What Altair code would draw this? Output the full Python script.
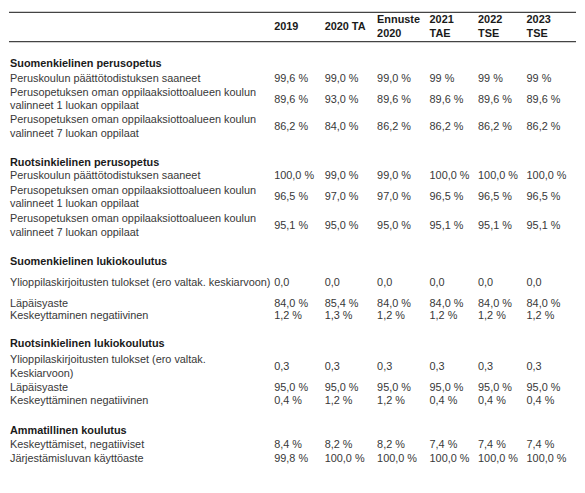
import altair as alt
import pandas as pd

# ---------------- data ----------------
headers = [["2019"], ["2020 TA"], ["Ennuste", "2020"], ["2021", "TAE"], ["2022", "TSE"], ["2023", "TSE"]]

sections = [
    "Suomenkielinen perusopetus",
    "Ruotsinkielinen perusopetus",
    "Suomenkielinen lukiokoulutus",
    "Ruotsinkielinen lukiokoulutus",
    "Ammatillinen koulutus",
]

row_labels = [
    [["Peruskoulun päättötodistuksen saaneet"],
     ["Perusopetuksen oman oppilaaksiottoalueen koulun", "valinneet 1 luokan oppilaat"],
     ["Perusopetuksen oman oppilaaksiottoalueen koulun", "valinneet 7 luokan oppilaat"]],
    [["Peruskoulun päättötodistuksen saaneet"],
     ["Perusopetuksen oman oppilaaksiottoalueen koulun", "valinneet 1 luokan oppilaat"],
     ["Perusopetuksen oman oppilaaksiottoalueen koulun", "valinneet 7 luokan oppilaat"]],
    [["Ylioppilaskirjoitusten tulokset (ero valtak. keskiarvoon)"],
     ["Läpäisyaste"],
     ["Keskeyttaminen negatiivinen"]],
    [["Ylioppilaskirjoitusten tulokset (ero valtak.", "Keskiarvoon)"],
     ["Läpäisyaste"],
     ["Keskeyttäminen negatiivinen"]],
    [["Keskeyttämiset, negatiiviset"],
     ["Järjestämisluvan käyttöaste"]],
]

values_suomi_perus = [
    ["99,6 %", "99,0 %", "99,0 %", "99 %", "99 %", "99 %"],
    ["89,6 %", "93,0 %", "89,6 %", "89,6 %", "89,6 %", "89,6 %"],
    ["86,2 %", "84,0 %", "86,2 %", "86,2 %", "86,2 %", "86,2 %"],
]
values_ruotsi_perus = [
    ["100,0 %", "99,0 %", "99,0 %", "100,0 %", "100,0 %", "100,0 %"],
    ["96,5 %", "97,0 %", "97,0 %", "96,5 %", "96,5 %", "96,5 %"],
    ["95,1 %", "95,0 %", "95,0 %", "95,1 %", "95,1 %", "95,1 %"],
]
values_suomi_lukio = [
    ["0,0", "0,0", "0,0", "0,0", "0,0", "0,0"],
    ["84,0 %", "85,4 %", "84,0 %", "84,0 %", "84,0 %", "84,0 %"],
    ["1,2 %", "1,3 %", "1,2 %", "1,2 %", "1,2 %", "1,2 %"],
]
values_ruotsi_lukio = [
    ["0,3", "0,3", "0,3", "0,3", "0,3", "0,3"],
    ["95,0 %", "95,0 %", "95,0 %", "95,0 %", "95,0 %", "95,0 %"],
    ["0,4 %", "1,2 %", "1,2 %", "0,4 %", "0,4 %", "0,4 %"],
]
values_ammatillinen = [
    ["8,4 %", "8,2 %", "8,2 %", "7,4 %", "7,4 %", "7,4 %"],
    ["99,8 %", "100,0 %", "100,0 %", "100,0 %", "100,0 %", "100,0 %"],
]
all_values = [values_suomi_perus, values_ruotsi_perus, values_suomi_lukio,
              values_ruotsi_lukio, values_ammatillinen]

# ---------------- layout (pixel grid of the table) ----------------
label_x = 6
col_x = [273, 324, 377, 430, 479, 528]
title_y = [62, 162, 262, 345, 433]
row_y = [[77, 98, 126], [175, 197, 226], [283, 305, 317], [368, 390, 403], [447, 461]]
line_gap = 14
header_y = 25
rule_y = [10, 39.5]

items = []
for c, h in enumerate(headers):
    n = len(h)
    for k, t in enumerate(h):
        items.append(dict(text=t, x=col_x[c], y=header_y + (k - (n - 1) / 2) * line_gap, kind="head"))
for s, title in enumerate(sections):
    items.append(dict(text=title, x=label_x, y=title_y[s], kind="title"))
    for r, lab in enumerate(row_labels[s]):
        yc = row_y[s][r]
        n = len(lab)
        for k, t in enumerate(lab):
            items.append(dict(text=t, x=label_x, y=yc + (k - (n - 1) / 2) * line_gap, kind="body"))
        for c, v in enumerate(all_values[s][r]):
            items.append(dict(text=v, x=col_x[c], y=yc, kind="body"))

df = pd.DataFrame(items)
rules = pd.DataFrame(dict(x=[5, 5], x2=[578, 578], y=rule_y))

W, H = 569, 477
xs = alt.Scale(domain=[8, 8 + W])
ys = alt.Scale(domain=[8, 8 + H], reverse=True)

base = alt.Chart(df)
font = "Liberation Sans"

body = base.transform_filter(alt.datum.kind == "body").mark_text(
    align="left", baseline="middle", font=font, fontSize=11, color="#383838"
).encode(x=alt.X("x:Q", scale=xs, axis=None), y=alt.Y("y:Q", scale=ys, axis=None), text="text:N")

titles = base.transform_filter(alt.datum.kind == "title").mark_text(
    align="left", baseline="middle", font=font, fontSize=11, fontWeight="bold", color="#1a1a1a"
).encode(x=alt.X("x:Q", scale=xs, axis=None), y=alt.Y("y:Q", scale=ys, axis=None), text="text:N")

heads = base.transform_filter(alt.datum.kind == "head").mark_text(
    align="left", baseline="middle", font=font, fontSize=11, fontWeight="bold", color="#1a1a1a"
).encode(x=alt.X("x:Q", scale=xs, axis=None), y=alt.Y("y:Q", scale=ys, axis=None), text="text:N")

lines = alt.Chart(rules).mark_rule(color="#444444", strokeWidth=1.3).encode(
    x=alt.X("x:Q", scale=xs, axis=None), x2="x2:Q", y=alt.Y("y:Q", scale=ys, axis=None)
)

chart = alt.layer(lines, body, titles, heads).properties(
    width=W, height=H, padding=0, background="white"
).configure_view(stroke=None)

chart.save("out.html", embed_options={"renderer": "svg", "actions": False})
